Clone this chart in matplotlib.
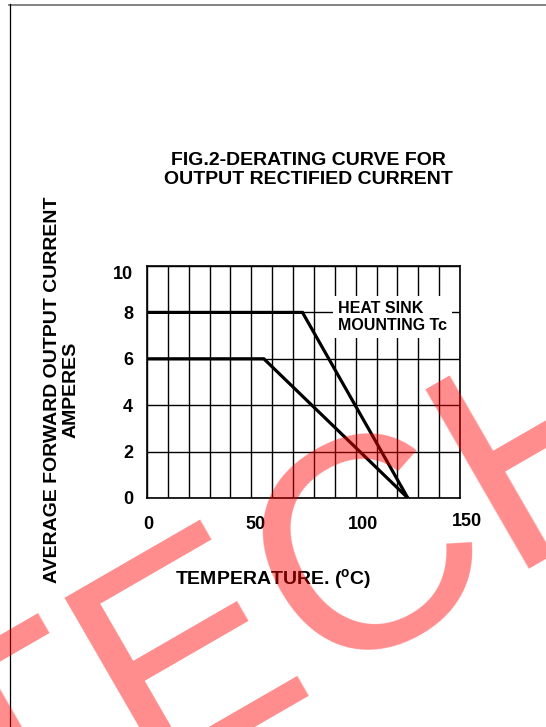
import matplotlib
matplotlib.use("Agg")
import matplotlib.pyplot as plt
from matplotlib.lines import Line2D
from matplotlib.transforms import ScaledTranslation

plt.rcParams['font.family'] = ['Liberation Sans', 'DejaVu Sans']
plt.rcParams['font.weight'] = 'bold'
plt.rcParams['mathtext.fontset'] = 'custom'
plt.rcParams['mathtext.rm'] = 'Liberation Sans:bold'
plt.rcParams['mathtext.bf'] = 'Liberation Sans:bold'

# ---- data ----
temp_heatsink = [0, 74.5, 125]
curr_heatsink = [8, 8, 0]
temp_other = [0, 56, 125]
curr_other = [6, 6, 0]
x_ticks = [0, 50, 100, 150]
y_ticks = [0, 2, 4, 6, 8, 10]
x_grid = list(range(0, 151, 10))
title = "FIG.2-DERATING CURVE FOR\nOUTPUT RECTIFIED CURRENT"
ylabel = "AVERAGE FORWARD OUTPUT CURRENT\nAMPERES"
xlabel = r"TEMPERATURE. ($^{\mathbf{o}}$C)"
annotation = "HEAT SINK\nMOUNTING Tc"
watermark = "TECH"

W, H = 546, 727
fig = plt.figure(figsize=(W / 100, H / 100), dpi=100)
fig.patch.set_facecolor('white')

ax = fig.add_axes([147 / W, 1 - 498 / H, 313 / W, 232 / H])
ax.set_xlim(0, 150)
ax.set_ylim(0, 10)

ax.set_xticks(x_grid, minor=False)
ax.set_yticks(y_ticks)
ax.grid(True, color='black', linewidth=1.0)
ax.set_axisbelow(True)
ax.tick_params(length=0, labelsize=13, pad=0)
ax.set_xticklabels([str(v) if v in x_ticks else "" for v in x_grid])
ax.set_yticklabels([str(v) for v in y_ticks])
for s in ax.spines.values():
    s.set_linewidth(1.2)
    s.set_color('black')

# tick label offsets (points)
x_off = {0: (1, -13), 50: (3, -13), 100: (5, -13), 150: (5, -11)}
for lab, v in zip(ax.get_xticklabels(), x_grid):
    if v in x_off:
        dx, dy = x_off[v]
        lab.set_transform(lab.get_transform() + ScaledTranslation(dx / 72, dy / 72, fig.dpi_scale_trans))
for lab, v in zip(ax.get_yticklabels(), y_ticks):
    dy = -5 if v == 10 else 0
    lab.set_transform(lab.get_transform() + ScaledTranslation(-10 / 72, dy / 72, fig.dpi_scale_trans))

ax.plot(temp_heatsink, curr_heatsink, color='black', linewidth=2.3, solid_joinstyle='miter', zorder=3)
ax.plot(temp_other, curr_other, color='black', linewidth=2.3, solid_joinstyle='miter', zorder=3)

ax.text(91.5, 7.8, annotation, fontsize=11.5, fontweight='bold', ha='left', va='center',
        linespacing=1.15, zorder=4,
        bbox=dict(facecolor='white', edgecolor='none', boxstyle='square,pad=0.3'))

fig.text(308 / W, 1 - 170 / H, title, fontsize=14, fontweight='bold', ha='center', va='center',
         linespacing=1.2)
fig.text(62 / W, 1 - 390 / H, ylabel, fontsize=14, fontweight='bold', ha='center', va='center',
         rotation=90, multialignment='center', linespacing=1.1)
fig.text(273 / W, 1 - 580 / H, xlabel, fontsize=14, fontweight='bold', ha='center', va='center')

# frame lines
fig.add_artist(Line2D([9 / W, 1], [1 - 4.5 / H, 1 - 4.5 / H], transform=fig.transFigure,
                      color='#7a7a7a', linewidth=1.3))
fig.add_artist(Line2D([9.5 / W, 9.5 / W], [0, 1 - 4 / H], transform=fig.transFigure,
                      color='black', linewidth=0.9))

# watermark
fig.text(-12 / W, 1 - 877 / H, watermark, fontsize=216, fontweight='normal', color=(1, 0, 0),
         alpha=0.45, rotation=30, rotation_mode='anchor', ha='left', va='baseline', zorder=10)

fig.savefig('out.png', dpi=100)
